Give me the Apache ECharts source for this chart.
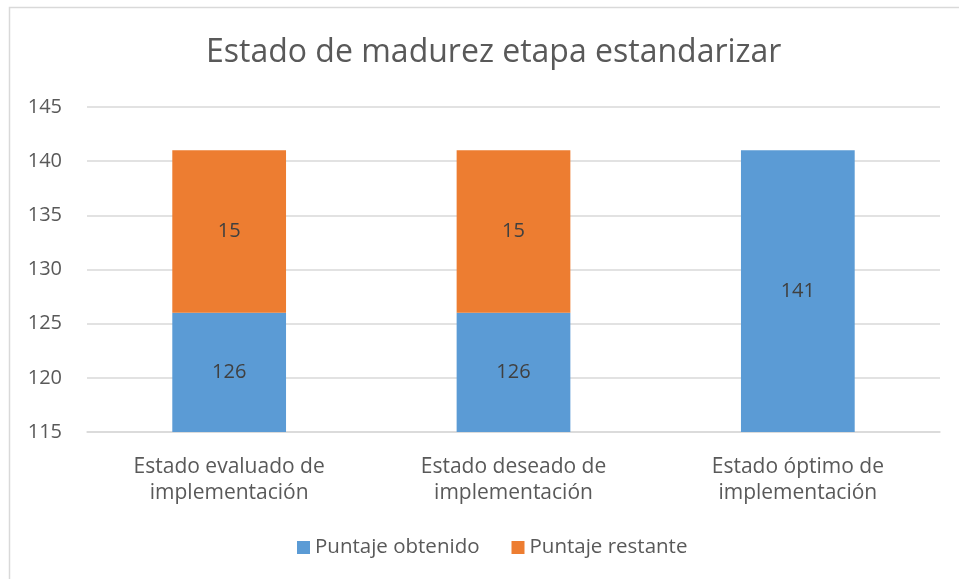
<!DOCTYPE html>
<html>
<head>
<meta charset="utf-8">
<script src="https://cdn.jsdelivr.net/npm/echarts@6/dist/echarts.min.js"></script>
<style>
  html, body { margin: 0; padding: 0; background: #fff; }
  #main { width: 959px; height: 579px; }
</style>
</head>
<body>
<div id="main"></div>
<script>
// chart data
const categories = ['Estado evaluado de\nimplementación', 'Estado deseado de\nimplementación', 'Estado óptimo de\nimplementación'];
const obtenido = [126, 126, 141];
const restante = [15, 15, null];
const seriesNames = ['Puntaje obtenido', 'Puntaje restante'];

const font = '"Open Sans", "Noto Sans", sans-serif';
const chart = echarts.init(document.getElementById('main'));

const option = {
  animation: false,
  textStyle: { fontFamily: font },
  color: ['#5B9BD5', '#ED7D31'],
  graphic: [{
    type: 'rect',
    shape: { x: 9.5, y: 7.5, width: 960, height: 580 },
    style: { fill: 'none', stroke: '#D9D9D9', lineWidth: 1.5 }
  }],
  title: {
    text: 'Estado de madurez etapa estandarizar',
    left: 201,
    top: 32,
    textStyle: { fontFamily: font, fontSize: 32, fontWeight: 'normal', color: '#595959' }
  },
  legend: {
    bottom: 16,
    left: 292,
    itemWidth: 13,
    itemHeight: 13,
    itemGap: 32,
    icon: 'rect',
    textStyle: { fontFamily: font, fontSize: 20.5, color: '#595959' },
    data: seriesNames
  },
  grid: { left: 87, right: 19, top: 107, bottom: 147 },
  xAxis: {
    type: 'category',
    data: categories,
    axisLine: { lineStyle: { color: '#D9D9D9', width: 1.5 } },
    axisTick: { show: false },
    axisLabel: { fontFamily: font, fontSize: 21, color: '#595959', lineHeight: 26, margin: 22 }
  },
  yAxis: {
    type: 'value',
    min: 115,
    max: 145,
    interval: 5,
    axisLine: { show: false },
    axisTick: { show: false },
    splitLine: { lineStyle: { color: '#D9D9D9', width: 1.5 } },
    axisLabel: { fontFamily: font, fontSize: 20, color: '#595959', margin: 25 }
  },
  series: [
    {
      name: seriesNames[0],
      type: 'bar',
      stack: 'total',
      barWidth: '40%',
      data: obtenido,
      label: { show: true, position: 'inside', fontFamily: font, fontSize: 20, color: '#404040' }
    },
    {
      name: seriesNames[1],
      type: 'bar',
      stack: 'total',
      data: restante,
      label: { show: true, position: 'inside', fontFamily: font, fontSize: 20, color: '#404040' }
    }
  ]
};
chart.setOption(option);
</script>
</body>
</html>
